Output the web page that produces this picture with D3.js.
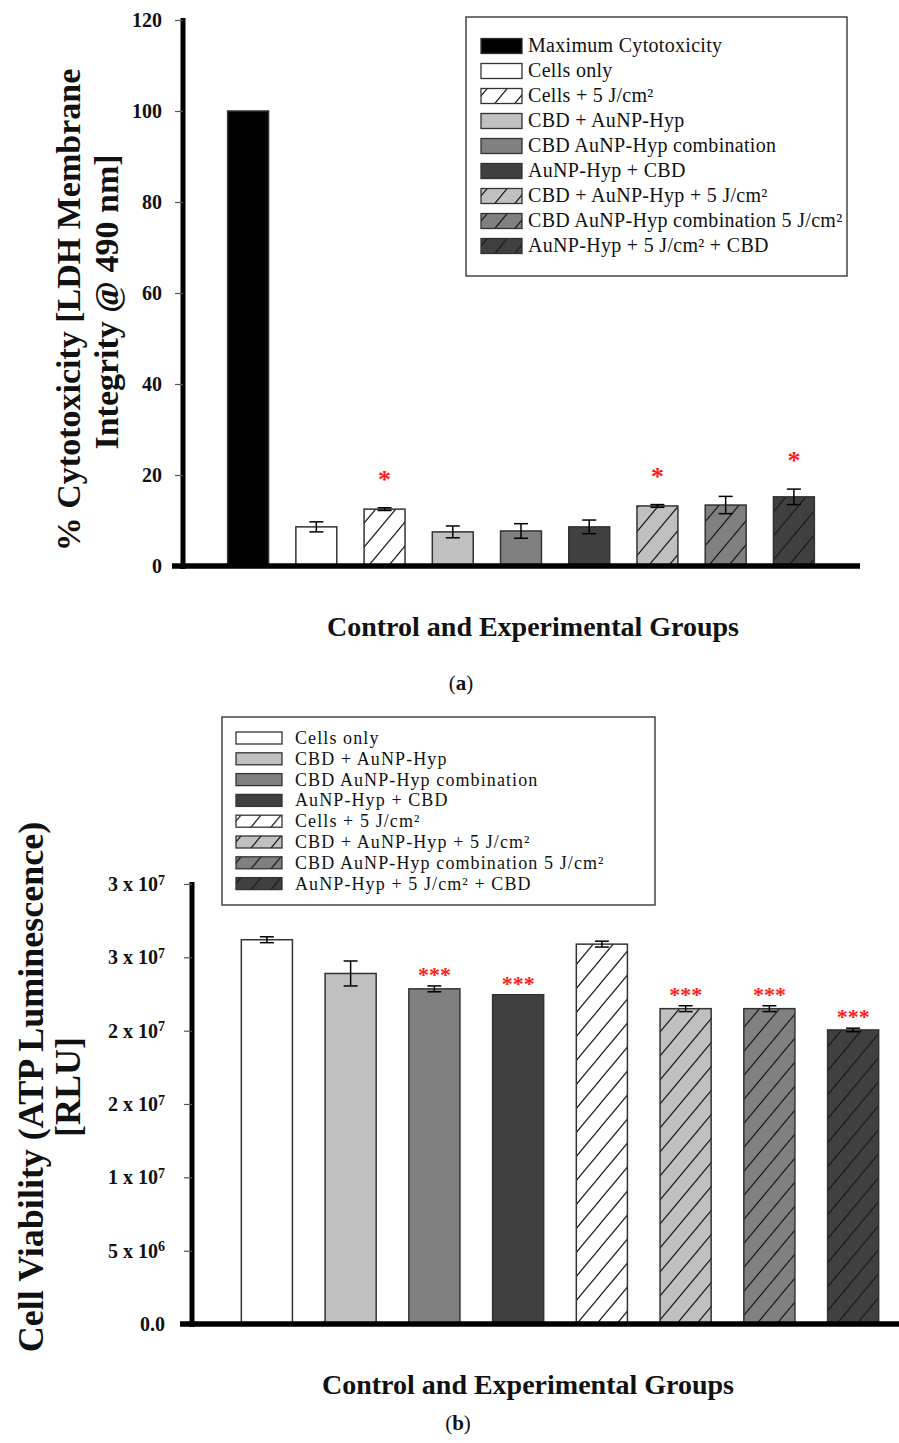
<!DOCTYPE html>
<html>
<head>
<meta charset="utf-8">
<script src="https://cdn.jsdelivr.net/npm/d3@7"></script>
<style>
  body { margin: 0; background: #fff; }
  svg text { font-family: "Liberation Serif", serif; fill: #111; }
  .tick text { font-weight: bold; font-size: 20px; }
  .axisTitle { font-weight: bold; }
</style>
</head>
<body>
<svg id="fig" width="899" height="1443"></svg>
<script>
// ---- panel (a): LDH cytotoxicity ----
const groupsA = ["Maximum Cytotoxicity", "Cells only", "Cells + 5 J/cm²", "CBD + AuNP-Hyp",
  "CBD AuNP-Hyp combination", "AuNP-Hyp + CBD", "CBD + AuNP-Hyp + 5 J/cm²",
  "CBD AuNP-Hyp combination 5 J/cm²", "AuNP-Hyp + 5 J/cm² + CBD"];
const valuesA = [100, 8.6, 12.5, 7.5, 7.7, 8.6, 13.2, 13.4, 15.2];
const errorsA = [0, 1.1, 0.3, 1.3, 1.6, 1.5, 0.3, 1.9, 1.7];
const signifA = ["", "", "*", "", "", "", "*", "", "*"];
const ticksA = [0, 20, 40, 60, 80, 100, 120];

// ---- panel (b): ATP viability ----
const groupsB = ["Cells only", "CBD + AuNP-Hyp", "CBD AuNP-Hyp combination", "AuNP-Hyp + CBD",
  "Cells + 5 J/cm²", "CBD + AuNP-Hyp + 5 J/cm²", "CBD AuNP-Hyp combination 5 J/cm²",
  "AuNP-Hyp + 5 J/cm² + CBD"];
const valuesB = [26.2e6, 23.9e6, 22.85e6, 22.45e6, 25.9e6, 21.5e6, 21.5e6, 20.05e6];
const errorsB = [0.2e6, 0.85e6, 0.2e6, 0, 0.2e6, 0.2e6, 0.2e6, 0.12e6];
const signifB = ["", "", "***", "***", "", "***", "***", "***"];
const ticksB = [0, 5e6, 1e7, 1.5e7, 2e7, 2.5e7, 3e7];
const tickMantB = ["0.0", "5 x 10", "1 x 10", "2 x 10", "2 x 10", "3 x 10", "3 x 10"];
const tickExpB = ["", "6", "7", "7", "7", "7", "7"];

// look of each group (fill + hatched or not)
const look = {
  "Maximum Cytotoxicity": {fill: "#000000", hatch: false},
  "Cells only": {fill: "#ffffff", hatch: false},
  "Cells + 5 J/cm²": {fill: "#ffffff", hatch: true},
  "CBD + AuNP-Hyp": {fill: "#c0c0c0", hatch: false},
  "CBD AuNP-Hyp combination": {fill: "#808080", hatch: false},
  "AuNP-Hyp + CBD": {fill: "#404040", hatch: false},
  "CBD + AuNP-Hyp + 5 J/cm²": {fill: "#c0c0c0", hatch: true},
  "CBD AuNP-Hyp combination 5 J/cm²": {fill: "#808080", hatch: true},
  "AuNP-Hyp + 5 J/cm² + CBD": {fill: "#404040", hatch: true}
};

const svg = d3.select("#fig");
const defs = svg.append("defs");

// diagonal hatch patterns
const hatchFills = ["#ffffff", "#c0c0c0", "#808080", "#404040"];
hatchFills.forEach(c => {
  const p = defs.append("pattern")
    .attr("id", "hatch" + c.slice(1))
    .attr("patternUnits", "userSpaceOnUse")
    .attr("width", 20).attr("height", 24);
  p.append("rect").attr("width", 20).attr("height", 24).attr("fill", c);
  p.append("path")
    .attr("d", "M0,24 L20,0 M-5,6 L5,-6 M15,30 L25,18")
    .attr("stroke", "#1a1a1a").attr("stroke-width", 1.2).attr("fill", "none");
});
const fillOf = g => look[g].hatch ? `url(#hatch${look[g].fill.slice(1)})` : look[g].fill;

function drawPanel(o) {
  const x = d3.scaleBand().domain(o.groups).range(o.xRange)
    .paddingInner(o.padIn).paddingOuter(o.padIn / 2);
  const y = d3.scaleLinear().domain(o.yDomain).range(o.yRange);
  const data = o.groups.map((g, i) => ({g, v: o.values[i], e: o.errors[i], s: o.signif[i]}));

  // bars
  svg.append("g").selectAll("rect")
    .data(data).join("rect")
    .attr("x", d => x(d.g))
    .attr("y", d => y(d.v))
    .attr("width", x.bandwidth())
    .attr("height", d => y(0) - y(d.v))
    .attr("fill", d => fillOf(d.g))
    .attr("stroke", "#333").attr("stroke-width", 1.5);

  // error bars
  const eb = svg.append("g").attr("stroke", "#000").attr("stroke-width", 1.5);
  data.filter(d => d.e > 0).forEach(d => {
    const cx = x(d.g) + x.bandwidth() / 2;
    eb.append("line").attr("x1", cx).attr("x2", cx).attr("y1", y(d.v - d.e)).attr("y2", y(d.v + d.e));
    [d.v - d.e, d.v + d.e].forEach(t => eb.append("line")
      .attr("x1", cx - 7).attr("x2", cx + 7).attr("y1", y(t)).attr("y2", y(t)));
  });

  // significance marks
  svg.append("g").selectAll("text")
    .data(data.filter(d => d.s)).join("text")
    .attr("x", d => x(d.g) + x.bandwidth() / 2)
    .attr("y", d => y(d.v + d.e) - o.starGap)
    .attr("text-anchor", "middle")
    .style("fill", "#ff1a1a").style("font-weight", "bold")
    .style("font-size", o.starSize + "px")
    .text(d => d.s);

  // y axis
  const ax = svg.append("g")
    .attr("transform", `translate(${o.yAxisX},0)`)
    .call(d3.axisLeft(y).tickValues(o.ticks).tickSize(8).tickSizeOuter(0).tickPadding(o.tickPad)
      .tickFormat(o.tickFmt || null));
  ax.select(".domain").attr("stroke", "#000").attr("stroke-width", 5)
    .attr("d", `M0,${o.yRange[1] - 2}V${o.yRange[0] + 3}`);
  ax.selectAll(".tick line").attr("stroke", "#555").attr("stroke-width", 1.2);
  if (o.tickPost) o.tickPost(ax);

  // x axis (thick base line, no ticks)
  svg.append("line")
    .attr("x1", o.xLine[0]).attr("x2", o.xLine[1])
    .attr("y1", y(0)).attr("y2", y(0))
    .attr("stroke", "#000").attr("stroke-width", 5.5);

  // legend
  const lg = svg.append("g");
  lg.append("rect").attr("x", o.legBox[0]).attr("y", o.legBox[1])
    .attr("width", o.legBox[2]).attr("height", o.legBox[3])
    .attr("fill", "#fff").attr("stroke", "#444").attr("stroke-width", 1.5);
  const row = lg.selectAll("g.item").data(o.groups).join("g")
    .attr("transform", (g, i) => `translate(${o.legX},${o.legY0 + i * o.legDy})`);
  row.append("rect")
    .attr("x", 0).attr("y", -o.swH / 2).attr("width", o.swW).attr("height", o.swH)
    .attr("fill", g => fillOf(g)).attr("stroke", "#333").attr("stroke-width", 1.3);
  row.append("text")
    .attr("x", o.txtDx).attr("y", 6)
    .style("font-size", o.legFont + "px")
    .style("letter-spacing", o.legSpacing + "px")
    .text(g => g);

  // titles
  o.yTitle.forEach(t => svg.append("text").attr("class", "axisTitle")
    .attr("transform", `translate(${t.x},${t.y}) rotate(-90)`)
    .attr("text-anchor", "middle").style("font-size", t.size + "px").text(t.text));
  svg.append("text").attr("class", "axisTitle")
    .attr("x", o.xTitle.x).attr("y", o.xTitle.y).attr("text-anchor", "middle")
    .style("font-size", o.xTitle.size + "px").text("Control and Experimental Groups");
  const lab = svg.append("text").attr("x", o.panel.x).attr("y", o.panel.y)
    .attr("text-anchor", "middle").style("font-size", "21px");
  lab.append("tspan").text("(");
  lab.append("tspan").style("font-weight", "bold").text(o.panel.letter);
  lab.append("tspan").text(")");
}

drawPanel({
  groups: groupsA, values: valuesA, errors: errorsA, signif: signifA, ticks: ticksA,
  xRange: [214, 828], padIn: 0.4,
  yDomain: [0, 120], yRange: [566, 20], yAxisX: 183, tickPad: 13,
  xLine: [172, 860], starGap: 20, starSize: 26,
  legBox: [466, 17, 381, 259], legX: 481, legY0: 46, legDy: 25, swW: 41, swH: 15, txtDx: 47,
  legFont: 20, legSpacing: 0.3,
  yTitle: [{text: "% Cytotoxicity [LDH Membrane", x: 80, y: 310, size: 34},
           {text: "Integrity @ 490 nm]", x: 118, y: 302, size: 34}],
  xTitle: {x: 533, y: 636, size: 28},
  panel: {x: 461, y: 690, letter: "a"}
});

drawPanel({
  groups: groupsB, values: valuesB, errors: errorsB, signif: signifB, ticks: ticksB,
  xRange: [225, 895], padIn: 0.39,
  yDomain: [0, 3e7], yRange: [1324, 884], yAxisX: 192, tickPad: 19,
  xLine: [180, 899], starGap: 4, starSize: 22,
  legBox: [222, 717, 433, 188], legX: 236, legY0: 738, legDy: 20.8, swW: 46, swH: 12, txtDx: 59,
  legFont: 18, legSpacing: 1.1,
  tickFmt: () => "",
  tickPost: ax => ax.selectAll(".tick text").each(function(d) {
    const i = ticksB.indexOf(d);
    const t = d3.select(this);
    t.append("tspan").text(tickMantB[i]);
    if (tickExpB[i]) t.append("tspan").attr("dy", "-0.45em").style("font-size", "14px").text(tickExpB[i]);
  }),
  yTitle: [{text: "Cell Viability (ATP Luminescence)", x: 43, y: 1087, size: 36},
           {text: "[RLU]", x: 80, y: 1087, size: 36}],
  xTitle: {x: 528, y: 1394, size: 28},
  panel: {x: 458, y: 1430, letter: "b"}
});
</script>
</body>
</html>
